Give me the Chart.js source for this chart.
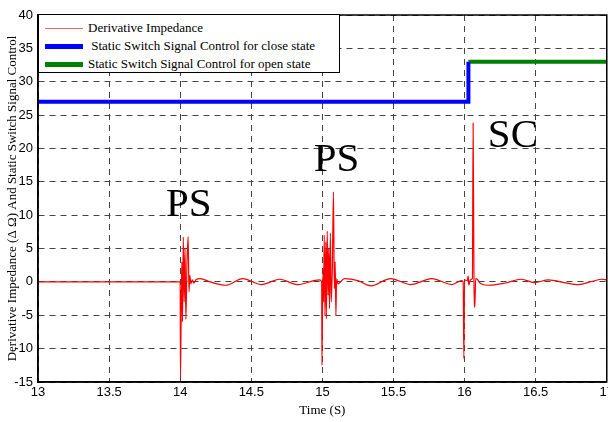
<!DOCTYPE html>
<html>
<head>
<meta charset="utf-8">
<script src="https://cdn.jsdelivr.net/npm/chart.js@4/dist/chart.umd.min.js"></script>
<style>
  html, body { margin: 0; padding: 0; background: #fff; }
  #wrap { position: relative; width: 608px; height: 422px; overflow: hidden; }
  #legend {
    position: absolute; left: 38px; top: 14px; width: 302px; height: 59px;
    background: #fff; border: 1px solid #000; box-sizing: border-box;
    font-family: "Liberation Serif", "Times New Roman", serif; font-size: 13px; color: #000;
    padding-top: 4px;
  }
  #legend .row { height: 18px; display: flex; align-items: center; }
  #legend .sw { width: 38px; margin-left: 6px; margin-right: 5px; }
</style>
</head>
<body>
<div id="wrap">
  <canvas id="chartCanvas" width="617" height="422"></canvas>
  <div id="legend"></div>
</div>
<script>
// --- data ---
const tickX = [13, 13.5, 14, 14.5, 15, 15.5, 16, 16.5, 17];
const tickY = [-15, -10, -5, 0, 5, 10, 15, 20, 25, 30, 35, 40];

// derivative impedance (time in s, value in ohm)
const timeZ = [
  13, 14.0, 14.002, 14.008, 14.012, 14.016, 14.022, 14.028, 14.034, 14.04, 14.048,
  14.056, 14.062, 14.068, 14.075, 14.085, 14.095, 14.11, 14.14, 14.21, 14.32, 14.44,
  14.57, 14.70, 14.825, 14.98, 14.995,
  14.997, 15.004, 15.008, 15.013, 15.018, 15.024, 15.028, 15.034, 15.04, 15.045, 15.05,
  15.056, 15.062, 15.07, 15.078, 15.084, 15.09, 15.095, 15.1, 15.11, 15.155, 15.25,
  15.34, 15.48, 15.62, 15.77, 15.91, 15.98,
  15.99, 15.995, 16.0, 16.02, 16.025, 16.03, 16.04, 16.055, 16.06, 16.066, 16.072,
  16.078, 16.09, 16.11, 16.165, 16.28, 16.40, 16.49, 16.59, 16.70, 16.80, 16.9, 16.965, 17
];
const derivZ = [
  0, 0, -14.5, -2, 3, -6, 6.7, -3, 5, -5.6, 3,
  6.8, -1.5, 1, -0.3, 0.3, -0.2, 0.3, 0.5, 0, -0.5, 0.5,
  -0.4, 0.4, -0.4, 0.3, 0,
  -12.5, 2, -3, 7, -5, 6, -5.5, 7.6, -2, 5, -4,
  7.3, -3, 2, 13.5, -1, 3, -5, 0.5, -0.3, 0.5, 0.2,
  -0.6, 0.5, -0.4, 0.5, -0.4, 0.2,
  0, -11.5, 0.3, 0.2, 0.9, -0.5, 0.3, 0.5, 23.8, 0.5, -3.8,
  0.5, 0.4, -0.2, -0.5, -0.2, 0.4, -0.1, 0.3, -0.1, -0.4, 0.1, 0.4, 0.3
];

// static switch signal
const closeTime = [13, 16.027, 16.027];
const closeLevel = [27, 27, 33];
const openTime = [16.027, 17];
const openLevel = [33, 33];

const seriesNames = [
  "Derivative Impedance",
  " Static Switch Signal Control for close state",
  "Static Switch Signal Control for open state"
];
const seriesColors = ["#ff0000", "#0000ff", "#008000"];

// event labels
const noteText = ["PS", "PS", "SC"];
const noteX = [14.06, 15.1, 16.34];
const noteY = [11.5, 18.2, 21.9];

const pts = (xs, ys) => xs.map((x, i) => ({ x, y: ys[i] }));

// --- legend (inside the plot, top left) ---
const legendEl = document.getElementById("legend");
seriesNames.forEach((name, i) => {
  const row = document.createElement("div");
  row.className = "row";
  const sw = document.createElement("span");
  sw.className = "sw";
  sw.style.borderTop = (i === 0 ? 1 : 5) + "px solid " + seriesColors[i];
  if (i === 0) sw.style.borderTopColor = "#ff6060";
  row.appendChild(sw);
  row.appendChild(document.createTextNode(name));
  row.style.whiteSpace = "pre";
  legendEl.appendChild(row);
});

// frame + labels
const framePlugin = {
  id: "frame",
  afterDatasetsDraw(chart) {
    const { ctx, chartArea: a, scales } = chart;
    ctx.save();
    ctx.font = '41px "Liberation Serif", serif';
    ctx.fillStyle = "#000";
    ctx.textAlign = "center";
    ctx.textBaseline = "middle";
    noteText.forEach((t, i) => {
      ctx.fillText(t, scales.x.getPixelForValue(noteX[i]), scales.y.getPixelForValue(noteY[i]));
    });
    ctx.strokeStyle = "#000";
    ctx.lineWidth = 1.5;
    ctx.strokeRect(a.left, a.top, a.right - a.left, a.bottom - a.top);
    ctx.restore();
  }
};

const canvas = document.getElementById("chartCanvas");
new Chart(canvas, {
  type: "line",
  data: {
    datasets: [
      {
        label: seriesNames[0], data: pts(timeZ, derivZ),
        borderColor: seriesColors[0], borderWidth: 1.2, pointRadius: 0,
        cubicInterpolationMode: "monotone"
      },
      {
        label: seriesNames[1], data: pts(closeTime, closeLevel),
        borderColor: seriesColors[1], borderWidth: 4, pointRadius: 0
      },
      {
        label: seriesNames[2], data: pts(openTime, openLevel),
        borderColor: seriesColors[2], borderWidth: 4, pointRadius: 0
      }
    ]
  },
  options: {
    responsive: false,
    animation: false,
    layout: { padding: { top: 15, left: 0, right: 0, bottom: 0 } },
    plugins: { legend: { display: false }, tooltip: { enabled: false } },
    scales: {
      x: {
        type: "linear", min: 13, max: 17,
        afterBuildTicks: s => { s.ticks = tickX.map(v => ({ value: v })); },
        afterFit: s => { s.height = 40; },
        grid: { color: "#444", lineWidth: 1, drawTicks: false },
        border: { color: "#000", width: 1.5, dash: [6, 5] },
        ticks: {
          color: "#000", padding: 3, callback: v => String(v),
          font: { family: '"Liberation Sans", Arial', size: 13 }
        },
        title: {
          display: true, text: "Time (S)", color: "#000", padding: { top: 2, bottom: 4 },
          font: { family: '"Liberation Serif", serif', size: 13 }
        }
      },
      y: {
        type: "linear", min: -15, max: 40,
        afterBuildTicks: s => { s.ticks = tickY.map(v => ({ value: v })); },
        afterFit: s => { s.width = 38; },
        grid: { color: "#444", lineWidth: 1, drawTicks: false },
        border: { color: "#000", width: 1.5, dash: [6, 5] },
        ticks: {
          color: "#000", padding: 5, callback: v => String(v),
          font: { family: '"Liberation Sans", Arial', size: 13 }
        },
        title: {
          display: true, text: "Derivative Impedance (\u0394 \u03a9) And Static Switch Signal Control",
          color: "#000", padding: { top: 5, bottom: 0 },
          font: { family: '"Liberation Serif", serif', size: 13 }
        }
      }
    }
  },
  plugins: [framePlugin]
});
</script>
</body>
</html>
